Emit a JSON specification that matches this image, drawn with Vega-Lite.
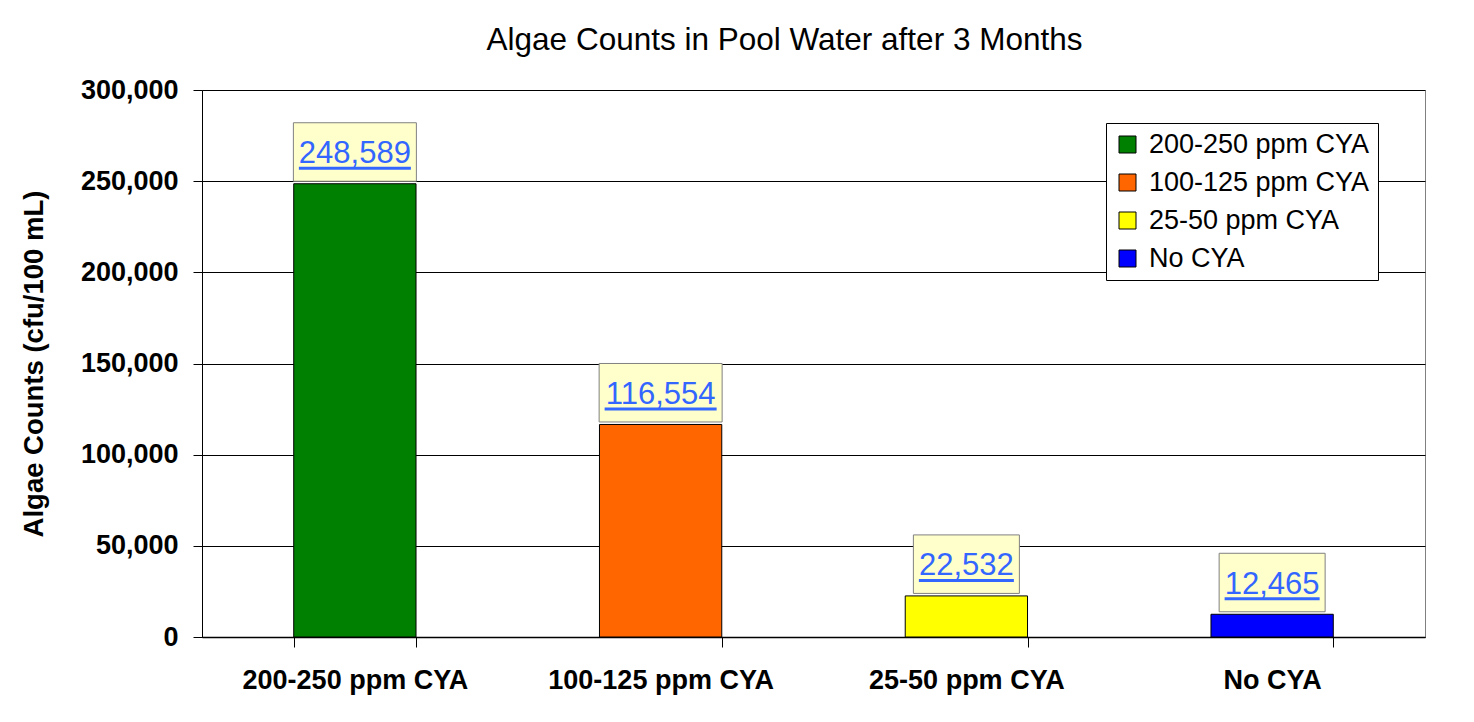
{
  "$schema": "https://vega.github.io/schema/vega-lite/v6.json",
  "autosize": "none",
  "width": 1223,
  "height": 547,
  "padding": {"left": 202, "top": 90, "right": 49, "bottom": 85},
  "background": "white",
  "title": {
    "text": "Algae Counts in Pool Water after 3 Months",
    "font": "Liberation Sans",
    "fontSize": 31.5,
    "fontWeight": "normal",
    "color": "black",
    "anchor": "middle",
    "dx": -29,
    "offset": 20
  },
  "config": {
    "font": "Liberation Sans",
    "view": {"stroke": "#808080", "strokeWidth": 1}
  },
  "data": {
    "values": [
      {"group": "200-250 ppm CYA", "value": 248589},
      {"group": "100-125 ppm CYA", "value": 116554},
      {"group": "25-50 ppm CYA", "value": 22532},
      {"group": "No CYA", "value": 12465}
    ]
  },
  "encoding": {
    "x": {
      "field": "group",
      "type": "nominal",
      "sort": null,
      "scale": {"paddingInner": 0.6, "paddingOuter": 0.3},
      "axis": {
        "title": null,
        "labelAngle": 0,
        "labelLimit": 0,
        "labelFont": "Liberation Sans",
        "labelFontSize": 27,
        "labelFontWeight": "bold",
        "labelColor": "black",
        "labelPadding": 20,
        "tickBand": "extent",
        "tickSize": 10,
        "tickColor": "black",
        "domainColor": "black",
        "domainWidth": 1.5,
        "grid": false
      }
    }
  },
  "layer": [
    {
      "mark": {"type": "bar", "stroke": "black", "strokeWidth": 1},
      "encoding": {
        "y": {
          "field": "value",
          "type": "quantitative",
          "scale": {"domain": [0, 300000], "nice": false},
          "axis": {
            "title": "Algae Counts (cfu/100 mL)",
            "titleFont": "Liberation Sans",
            "titleFontSize": 27.5,
            "titleFontWeight": "bold",
            "titleColor": "black",
            "titlePadding": 32,
            "values": [0, 50000, 100000, 150000, 200000, 250000, 300000],
            "format": ",.0f",
            "labelFont": "Liberation Sans",
            "labelFontSize": 27,
            "labelFontWeight": "bold",
            "labelColor": "black",
            "labelPadding": 15,
            "tickSize": 9,
            "tickColor": "black",
            "domainColor": "black",
            "grid": true,
            "gridColor": "black",
            "gridWidth": 1
          }
        },
        "color": {
          "field": "group",
          "type": "nominal",
          "sort": null,
          "scale": {
            "domain": ["200-250 ppm CYA", "100-125 ppm CYA", "25-50 ppm CYA", "No CYA"],
            "range": ["#008000", "#FF6600", "#FFFF00", "#0000FF"]
          },
          "legend": {
            "title": null,
            "orient": "none",
            "legendX": 904,
            "legendY": 33,
            "symbolType": "square",
            "symbolSize": 289,
            "symbolStrokeColor": "black",
            "symbolStrokeWidth": 1,
            "symbolOpacity": 1,
            "labelFont": "Liberation Sans",
            "labelFontSize": 27,
            "labelColor": "black",
            "labelLimit": 0,
            "labelOffset": 8,
            "rowPadding": 10,
            "padding": 8,
            "strokeColor": "black",
            "fillColor": "white"
          }
        }
      }
    },
    {
      "mark": {"type": "bar", "fill": "#FFFFCC", "stroke": "#808080", "strokeWidth": 1, "yOffset": -61, "y2Offset": -2.5},
      "encoding": {
        "y": {"field": "value", "type": "quantitative"},
        "y2": {"field": "value"},
        "size": {"condition": {"test": "datum.value >= 100000", "value": 123}, "value": 106}
      }
    },
    {
      "mark": {"type": "text", "font": "Liberation Sans", "fontSize": 31, "color": "#3366FF", "baseline": "alphabetic", "align": "center", "dy": -20.5},
      "encoding": {
        "y": {"field": "value", "type": "quantitative"},
        "text": {"field": "value", "type": "quantitative", "format": ","}
      }
    },
    {
      "mark": {"type": "bar", "fill": "#3366FF", "yOffset": -17, "y2Offset": -14},
      "encoding": {
        "y": {"field": "value", "type": "quantitative"},
        "y2": {"field": "value"},
        "size": {"condition": {"test": "datum.value >= 100000", "value": 112}, "value": 95}
      }
    }
  ]
}
